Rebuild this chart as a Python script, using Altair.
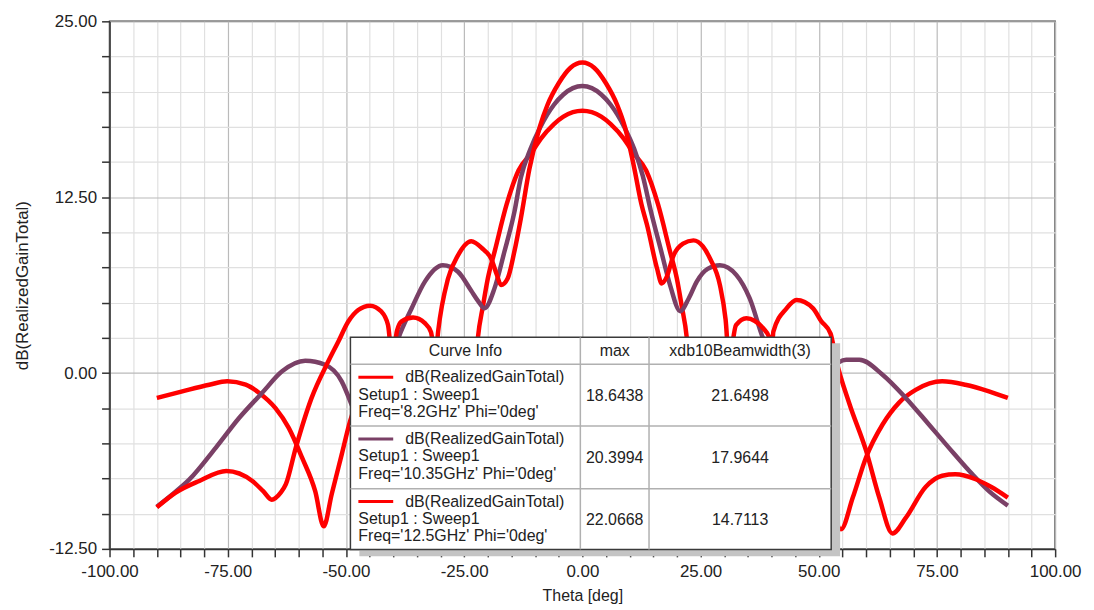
import altair as alt
import pandas as pd

# ---------------- data ----------------
SERIES = ["8.2GHz", "10.35GHz", "12.5GHz"]
COLORS = ["#ff0000", "#7a4066", "#ff0000"]

theta_82 = [-90, -84.6, -78.9, -75.1, -71.2, -68.4, -64.9, -62.1, -59.3, -56.5, -54.7, -53.0, -50.9,
            -49.1, -47, -44, -40, -36, -32, -28.5, -25.8, -23.8, -23.0, -22.1, -21.0, -20.0, -18.5,
            -16.0, -13.5, -10.8, -8.8, -6, -4, -2, 0, 2, 4, 6, 8.8, 10.8, 13.5, 16.0, 18.5, 20.0,
            21.0, 22.1, 23.0, 23.8, 25.8, 28.5, 32, 36, 40, 44, 47, 49.5, 51.0, 52.6, 54.7, 57.2,
            60.0, 63.5, 67.0, 70.5, 76.1, 81.0, 86.0, 90]
gain_82 = [-1.77, -1.3, -0.83, -0.59, -0.83, -1.4, -2.5, -3.9, -6.0, -8.4, -10.9, -8.6, -5.8,
           -3.4, -1.5, 0.3, 1.2, 1.3, 0.4, -1.2, -3.0, -6.0, -1.5, 2.48, 4.8, 6.7, 8.7,
           12.0, 14.4, 15.64, 16.65, 17.7, 18.23, 18.54, 18.64, 18.54, 18.23, 17.7, 16.65, 15.64, 14.4, 12.0, 8.7, 6.7,
           4.8, 2.48, -1.5, -6.0, -3.0, -1.2, 0.4, 1.3, 1.2, 0.3, -1.5, -3.6, -5.8, -8.85, -11.1, -8.85,
           -6.0, -3.66, -2.1, -1.2, -0.59, -0.83, -1.3, -1.77]

theta_1035 = [-90, -87, -83.2, -77.5, -72.6, -67.7, -63.5, -58.6, -54.4, -50.9, -49.1, -47.5, -46,
              -44.8, -43.5, -42, -40.5, -38.9, -36.1, -33.3, -29.5, -26.3, -23.5, -22.0, -20.7, -18.6,
              -16.5, -14.4, -13.0, -11, -9, -6, -4, -2, 0, 2, 4, 6, 9, 11, 12.8, 14.5, 16.5, 18.6,
              20.7, 22.5, 24.2, 26.5, 29.1, 32.6, 35.4, 38.2, 40.5, 42, 43.5, 44.8, 46, 48, 50,
              52.6, 55.8, 58.6, 63.5, 68.4, 73.3, 77.5, 82.5, 86, 90]
gain_1035 = [-9.5, -8.7, -7.6, -5.3, -3.2, -1.4, 0.12, 0.87, 0.59, -0.59, -2.0, -3.5, -6.0,
             -9.0, -5.0, -1.5, 0.8, 2.48, 4.6, 6.5, 7.66, 7.2, 5.85, 5.1, 4.6, 6.0,
             8.6, 11.4, 13.9, 15.9, 17.4, 19.07, 19.8, 20.25, 20.4, 20.25, 19.8, 19.07, 17.4, 15.9, 14.0, 11.5, 8.9, 6.2,
             4.4, 5.3, 6.5, 7.4, 7.66, 6.96, 5.3, 2.48, 0.8, -1.5, -5.0, -9.0, -6.0, -3.0, -1.2,
             0.24, 0.94, 0.94, -0.12, -1.77, -3.66, -5.3, -7.2, -8.4, -9.43]

theta_125 = [-90, -86, -81, -75.3, -69.8, -67.5, -65.7, -63.8, -62.7, -60.6, -57.3, -53.7, -51.6,
             -49.5, -47.4, -44.9, -42.5, -41.1, -40.2, -39.2, -38.3, -35.8, -33.3, -32.0, -31.1,
             -30.5, -28.4, -26.3, -23.5, -21.0, -19.3, -18.1, -17.2, -15.8, -14.4, -13.0, -11.2, -9.0,
             -7.36, -5, -2.5, 0, 2.5, 5, 7.36, 9.0, 10.9, 12.5, 13.7, 15.8, 16.8, 17.8, 19.3, 21.3,
             23.5, 25.5, 27.0, 29.1, 30.3, 31.05, 32.5, 34.7, 36.5, 38.2, 39.6, 40.0, 40.4, 43.2,
             45.3, 48.8, 50.5, 52.5, 53.7, 56.5, 60.0, 62.8, 65.6, 68.4, 72.6, 76.1, 78.9, 83.2, 86.5, 90]
gain_125 = [-9.55, -8.5, -7.67, -6.96, -7.67, -8.4, -9.0, -8.5, -7.9, -5.3, -1.8, 0.85, 2.24,
            3.66, 4.48, 4.79, 4.37, 3.42, 1.0, 3.0, 3.66, 3.94, 3.54, 2.9, 1.0,
            2.95, 6.72, 8.37, 9.37, 8.8, 8.14, 7.0, 6.25, 6.72, 8.6, 11.0, 14.5, 17.5,
            19.07, 20.6, 21.7, 22.07, 21.7, 20.6, 19.07, 17.5, 14.7, 12.0, 10.5, 7.43, 6.37, 6.8, 8.37, 9.2,
            9.43, 9.0, 8.14, 6.25, 3.8, 1.0, 3.4, 3.9, 3.7, 3.2, 2.48, 1.0, 2.95, 4.6,
            5.19, 4.6, 3.7, 2.8, 0.9, -2.2, -5.5, -8.85, -11.4, -10.3, -8.1, -7.3, -7.2, -7.55, -8.1, -8.85]

legend_title = "dB(RealizedGainTotal)"
legend_setup = "Setup1 : Sweep1"
legend_freq = ["Freq='8.2GHz' Phi='0deg'", "Freq='10.35GHz' Phi='0deg'", "Freq='12.5GHz' Phi='0deg'"]
legend_max = ["18.6438", "20.3994", "22.0668"]
legend_bw = ["21.6498", "17.9644", "14.7113"]
header = ["Curve Info", "max", "xdb10Beamwidth(3)"]

x_ticks = list(range(-100, 101, 5))
y_ticks = [-12.5 + 2.5 * i for i in range(16)]

# ---------------- build table ----------------
rows = []
for name, th, g in zip(SERIES, [theta_82, theta_1035, theta_125], [gain_82, gain_1035, gain_125]):
    for t, v in zip(th, g):
        rows.append({"series": name, "theta": t, "gain": v})
df = pd.DataFrame(rows)

W, H = 950, 530
FONT = "Liberation Sans"

x_axis = alt.Axis(
    values=x_ticks,
    labelExpr="datum.value % 25 === 0 ? (datum.value < 0 ? '-' : '') + format(abs(datum.value), '.2f') : ''",
    title="Theta [deg]",
    grid=True,
    gridColor={"condition": {"test": "datum.value % 25 === 0", "value": "#bababa"}, "value": "#e0e0e0"},
    gridWidth=1.2,
    tickSize=8, tickColor="#333", tickWidth=1.5,
    domainColor="#333", domainWidth=1.5,
    labelFont=FONT, labelFontSize=17, labelColor="#222", labelPadding=7,
    titleFont=FONT, titleFontSize=16, titleFontWeight="normal", titleColor="#222", titlePadding=8,
    labelOverlap=False, labelFlush=False,
)
y_axis = alt.Axis(
    values=y_ticks,
    labelExpr="datum.value % 12.5 === 0 ? (datum.value < 0 ? '-' : '') + format(abs(datum.value), '.2f') : ''",
    title="dB(RealizedGainTotal)",
    grid=True,
    gridColor={"condition": {"test": "datum.value % 12.5 === 0", "value": "#bababa"}, "value": "#e0e0e0"},
    gridWidth=1.2,
    tickSize=8, tickColor="#333", tickWidth=1.5,
    domainColor="#333", domainWidth=1.5,
    labelFont=FONT, labelFontSize=17, labelColor="#222", labelPadding=5,
    titleFont=FONT, titleFontSize=17, titleFontWeight="normal", titleColor="#222", titlePadding=17,
    labelOverlap=False, labelFlush=False,
)

curves = alt.Chart(df).mark_line(strokeWidth=4.5, interpolate="monotone", clip=True).encode(
    x=alt.X("theta:Q", scale=alt.Scale(domain=[-100, 100], nice=False, zero=False), axis=x_axis),
    y=alt.Y("gain:Q", scale=alt.Scale(domain=[-12.5, 25], nice=False, zero=False), axis=y_axis),
    color=alt.Color("series:N", scale=alt.Scale(domain=SERIES, range=COLORS), legend=None),
    order=alt.Order("theta:Q"),
)

# ---------------- legend table (pixel layout inside plot area) ----------------
one = pd.DataFrame({"k": [0]})
OX, OY = 110, 22.5          # page position of the plot origin used for layout
TX0, TX1 = 352 - OX, 835 - OX
TY0, TY1 = 340 - OY, 553 - OY
COL1, COL2 = 583 - OX, 652 - OX
ROWS_Y = [367 - OY, 429 - OY, 492 - OY]

layers = [curves]
layers.append(alt.Chart(one).mark_rect(color="#c4c4c4").encode(
    x=alt.value(TX0 + 9), x2=alt.value(TX1 + 9), y=alt.value(TY0 + 6), y2=alt.value(TY1 + 7)))
layers.append(alt.Chart(one).mark_rect(fill="white", stroke="#3a3a3a", strokeWidth=1.5).encode(
    x=alt.value(TX0), x2=alt.value(TX1), y=alt.value(TY0), y2=alt.value(TY1)))
for ry in ROWS_Y:
    layers.append(alt.Chart(one).mark_rule(color="#b0b0b0", strokeWidth=1.5).encode(
        x=alt.value(TX0), x2=alt.value(TX1), y=alt.value(ry)))
for cx in [COL1, COL2]:
    layers.append(alt.Chart(one).mark_rule(color="#b0b0b0", strokeWidth=1.5).encode(
        x=alt.value(cx), y=alt.value(TY0), y2=alt.value(TY1)))


def txt(s, x, y, align="left"):
    return alt.Chart(one).mark_text(align=align, baseline="middle", font=FONT, fontSize=16,
                                    color="#222").encode(
        x=alt.value(x), y=alt.value(y), text=alt.value(s))


hy = (TY0 + ROWS_Y[0]) / 2
layers.append(txt(header[0], (TX0 + COL1) / 2, hy, "center"))
layers.append(txt(header[1], (COL1 + COL2) / 2, hy, "center"))
layers.append(txt(header[2], (COL2 + TX1) / 2, hy, "center"))

row_tops = ROWS_Y
row_bots = ROWS_Y[1:] + [TY1]
for i in range(3):
    top = row_tops[i]
    mid = (row_tops[i] + row_bots[i]) / 2
    l1, l2, l3 = top + 13, top + 30.5, top + 48
    layers.append(alt.Chart(one).mark_rule(color=COLORS[i], strokeWidth=3).encode(
        x=alt.value(360 - OX), x2=alt.value(395 - OX), y=alt.value(l1)))
    layers.append(txt(legend_title, 407 - OX, l1))
    layers.append(txt(legend_setup, 360 - OX, l2))
    layers.append(txt(legend_freq[i], 360 - OX, l3))
    layers.append(txt(legend_max[i], (COL1 + COL2) / 2, mid + 0.5, "center"))
    layers.append(txt(legend_bw[i], (COL2 + TX1) / 2, mid + 0.5, "center"))

chart = alt.layer(*layers).properties(
    width=W, height=H, background="white",
    padding={"left": 5, "top": 3, "right": 5, "bottom": 5},
).configure_view(stroke="#3a3a3a", strokeWidth=1.5)

chart.save("out.html", embed_options={"renderer": "svg", "actions": False})
